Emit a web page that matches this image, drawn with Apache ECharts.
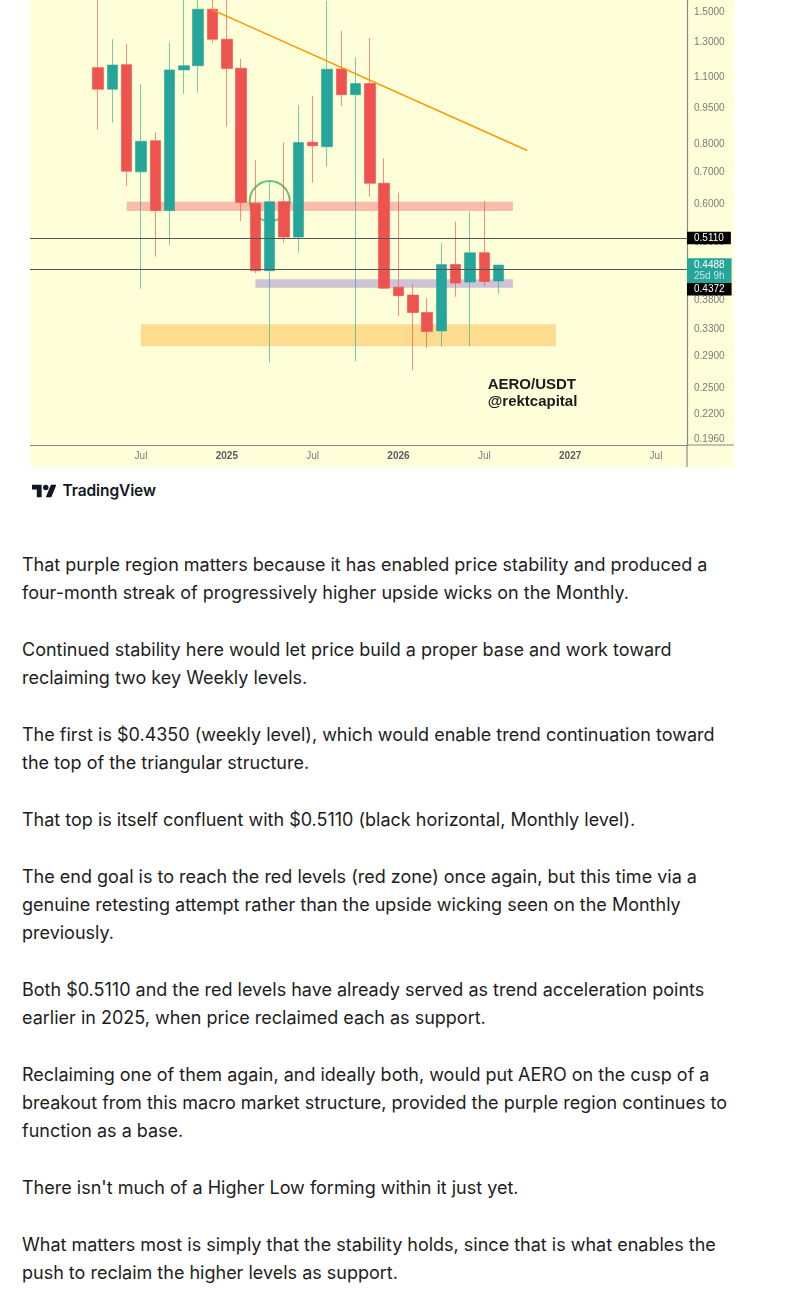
<!DOCTYPE html>
<html>
<head>
<meta charset="utf-8">
<script src="https://cdn.jsdelivr.net/npm/echarts@6/dist/echarts.min.js"></script>
<style>
html,body{margin:0;padding:0;background:#ffffff;width:798px;height:1306px;overflow:hidden;}
#chart{position:absolute;left:30px;top:0;width:704px;height:467px;background:#FEFED9;}
#logo{position:absolute;left:31.7px;top:481.5px;}
#logoText{position:absolute;left:62.5px;top:483.3px;font-family:Inter,"Noto Sans",sans-serif;font-weight:600;font-size:15.5px;line-height:15.5px;color:#131722;letter-spacing:-0.1px;white-space:nowrap;}
#article{position:absolute;left:22px;top:551px;width:720px;font-family:Inter,"Noto Sans",sans-serif;font-size:18px;line-height:28px;color:#1d1d1d;}
#article p{margin:0 0 29px 0;}
</style>
</head>
<body>
<div id="chart"></div>
<svg id="logo" width="24.8" height="19.3" viewBox="0 0 36 28"><path fill="#131722" d="M14 22H7V11H0V4h14v18zM28 22h-8l7.5-18h8L28 22z"/><circle fill="#131722" cx="20" cy="8" r="4"/></svg>
<div id="logoText">TradingView</div>
<div id="article">
<p>That purple region matters because it has enabled price stability and produced a four-month streak of progressively higher upside wicks on the Monthly.</p>
<p>Continued stability here would let price build a proper base and work toward reclaiming two key Weekly levels.</p>
<p>The first is $0.4350 (weekly level), which would enable trend continuation toward the top of the triangular structure.</p>
<p>That top is itself confluent with $0.5110 (black horizontal, Monthly level).</p>
<p>The end goal is to reach the red levels (red zone) once again, but this time via a genuine retesting attempt rather than the upside wicking seen on the Monthly previously.</p>
<p>Both $0.5110 and the red levels have already served as trend acceleration points earlier in 2025, when price reclaimed each as support.</p>
<p>Reclaiming one of them again, and ideally both, would put AERO on the cusp of a breakout from this macro market structure, provided the purple region continues to function as a base.</p>
<p>There isn't much of a Higher Low forming within it just yet.</p>
<p>What matters most is simply that the stability holds, since that is what enables the push to reclaim the higher levels as support.</p>
</div>
<script>
// ---- Data (monthly candles, AERO/USDT) ----
const months = ['2024-04','2024-05','2024-06','2024-07','2024-08','2024-09','2024-10','2024-11','2024-12',
  '2025-01','2025-02','2025-03','2025-04','2025-05','2025-06','2025-07','2025-08','2025-09','2025-10','2025-11','2025-12',
  '2026-01','2026-02','2026-03','2026-04','2026-05','2026-06','2026-07','2026-08'];
const opens  = [1.150,1.038,1.167,0.700,0.812,0.582,1.138,1.161,1.520,1.317,1.147,0.603,0.437,0.607,0.513,0.806,0.789,1.143,1.011,1.066,0.663,0.404,0.389,0.358,0.328,0.450,0.414,0.476,0.416];
const closes = [1.038,1.165,0.702,0.810,0.582,1.138,1.161,1.520,1.317,1.145,0.605,0.437,0.607,0.513,0.805,0.793,1.142,1.011,1.066,0.663,0.402,0.388,0.358,0.327,0.450,0.412,0.476,0.415,0.4488];
const lows   = [0.855,0.885,0.654,0.401,0.467,0.494,1.015,1.021,1.296,0.868,0.554,0.432,0.282,0.4995,0.476,0.665,0.718,0.958,0.284,0.622,0.401,0.352,0.272,0.302,0.304,0.386,0.305,0.406,0.391];
const highs  = [1.72,1.317,1.290,1.063,0.845,1.300,1.70,1.78,1.85,1.65,1.199,0.740,0.668,0.806,0.963,1.006,1.58,1.370,1.206,1.325,0.747,0.634,0.410,0.384,0.498,0.552,0.579,0.609,0.450];

// horizontal levels (black horizontal monthly level, weekly level line)
const levels = [0.5110, 0.4372];
// price-axis labels
const priceLabelValues = [0.5110, 0.4488, 0.4372];
const priceLabelTexts  = ['0.5110', '0.4488', '0.4372'];
const countdownText = '25d 9h';

// zones: red levels, purple region, lower support
const zoneStart = ['2024-06', '2025-03', '2024-07'];
const zoneEnd   = ['2026-09', '2026-09', '2026-12'];
const zoneHigh  = [0.607, 0.4196, 0.3386];
const zoneLow   = [0.581, 0.4030, 0.3048];

// descending trendline (two anchors)
const trendMonths = ['2024-12', '2026-10'];
const trendValues = [1.515, 0.7747];

// highlight circle
const circleMonth = '2025-04';
const circleValue = 0.609;

// axis ticks
const xTickMonths = ['2024-07','2025-01','2025-07','2026-01','2026-07','2027-01','2027-07'];
const xTickLabels = ['Jul','2025','Jul','2026','Jul','2027','Jul'];
const yTickValues = [1.5,1.3,1.1,0.95,0.8,0.7,0.6,0.5,0.44,0.38,0.33,0.29,0.25,0.22,0.196];

// visible range
const X_MIN = -1.759, X_MAX = 44.17;
const Y_MIN = 0.1904, Y_MAX = 1.588;

// ---- helpers ----
function mIdx(s){ const p = s.split('-'); return (parseInt(p[0]) - 2024) * 12 + (parseInt(p[1]) - 1); }
const candleData = months.map((m, i) => [mIdx(m), opens[i], closes[i], lows[i], highs[i]]);
const xTickValues = xTickMonths.map(mIdx);
const zoneColors = ['#F8BCA8', '#CEC2D4', '#FDDB8F'];
const labelStyles = [
  {bg:'#000000', va:'middle', dy:0},
  {bg:'#26A69A', va:'top', dy:-6.75},
  {bg:'#000000', va:'middle', dy:18.6}
];
const FONT = '"Liberation Sans", Arial, sans-serif';

const chart = echarts.init(document.getElementById('chart'), null, {renderer:'canvas'});
chart.setOption({
  animation: false,
  backgroundColor: '#FEFED9',
  grid: {left: 0, right: 47, top: 0, bottom: 22, containLabel: false},
  xAxis: {
    type: 'value', min: X_MIN, max: X_MAX,
    axisLine: {show: true, onZero: false, lineStyle: {color: '#8a8a84', width: 1.2}},
    axisTick: {show: false}, splitLine: {show: false},
    axisLabel: {
      customValues: xTickValues, margin: 6, fontSize: 10, fontFamily: FONT,
      formatter: function (v) {
        const i = xTickValues.indexOf(Math.round(v));
        const s = xTickLabels[i];
        return /^\d{4}$/.test(s) ? '{y|' + s + '}' : '{m|' + s + '}';
      },
      rich: {
        y: {fontWeight: 'bold', color: '#5b5b5b', fontSize: 10, fontFamily: FONT},
        m: {color: '#7e7e7e', fontSize: 10, fontFamily: FONT}
      }
    }
  },
  yAxis: {
    type: 'log', logBase: 10, position: 'right', min: Y_MIN, max: Y_MAX,
    axisLine: {show: true, onZero: false, lineStyle: {color: '#8a8a84', width: 1.2}},
    axisTick: {show: false}, splitLine: {show: false}, minorTick: {show: false},
    axisLabel: {
      customValues: yTickValues, margin: 7, fontSize: 10, fontFamily: FONT, color: '#7b7b7b',
      formatter: function (v) { return Number(v).toFixed(4); }
    }
  },
  graphic: [
    {type: 'line', shape: {x1: 657, y1: 445, x2: 704, y2: 445}, style: {stroke: '#8a8a84', lineWidth: 1.2}, silent: true},
    {type: 'line', shape: {x1: 657, y1: 445, x2: 657, y2: 467}, style: {stroke: '#8a8a84', lineWidth: 1.2}, silent: true},
    {type: 'text', x: 457.7, y: 376.8, silent: true, z: 10,
      style: {text: 'AERO/USDT\n@rektcapital', fontSize: 15, fontWeight: 'bold', fontFamily: FONT, lineHeight: 16.5, fill: '#1b1b1b', verticalAlign: 'top', align: 'left'}}
  ],
  series: [
    {
      type: 'scatter', name: 'circle', z: 1.5, silent: true,
      data: [[mIdx(circleMonth), circleValue]],
      symbol: 'circle', symbolSize: 40,
      itemStyle: {color: 'rgba(0,0,0,0)', borderColor: '#4CAF50', borderWidth: 2}
    },
    {
      type: 'candlestick', name: 'AERO/USDT', z: 2, silent: true,
      data: candleData, encode: {x: 0, y: [1, 2, 3, 4]},
      barWidth: 11,
      itemStyle: {
        color: '#26A69A', color0: '#EF5350',
        borderColor: 'rgba(38,166,154,0.6)', borderColor0: 'rgba(239,83,80,0.65)', borderWidth: 1
      },
      markArea: {
        silent: true, z: 1,
        data: zoneStart.map((s, i) => [
          {xAxis: mIdx(s), yAxis: zoneHigh[i], itemStyle: {color: zoneColors[i], opacity: 1}},
          {xAxis: mIdx(zoneEnd[i]), yAxis: zoneLow[i]}
        ])
      },
      markLine: {
        silent: true, symbol: ['none', 'none'], z: 5,
        label: {show: false},
        lineStyle: {color: '#555555', width: 1.1, type: 'solid'},
        data: levels.map(v => ({yAxis: v}))
      }
    },
    {
      type: 'line', name: 'trend', z: 3, silent: true,
      data: trendMonths.map((m, i) => [mIdx(m), trendValues[i]]),
      symbol: 'none', lineStyle: {color: '#FF9800', width: 1.6}
    },
    {
      type: 'custom', name: 'priceLabels', z: 8, silent: true, clip: false,
      data: priceLabelValues.map(v => [X_MAX, v]),
      renderItem: function (params, api) {
        const i = params.dataIndex;
        const pt = api.coord([api.value(0), api.value(1)]);
        const st = labelStyles[i];
        const isLast = i === 1;
        return {
          type: 'text', x: pt[0], y: pt[1] + st.dy,
          style: isLast ? {
            text: '{a|' + priceLabelTexts[i] + '}\n{b|' + countdownText + '}',
            backgroundColor: st.bg, padding: [1, 7, 1, 7], align: 'left', verticalAlign: st.va,
            rich: {
              a: {fill: '#ffffff', fontSize: 10, fontFamily: FONT, lineHeight: 11.5},
              b: {fill: 'rgba(255,255,255,0.72)', fontSize: 10, fontFamily: FONT, lineHeight: 11.5}
            }
          } : {
            text: priceLabelTexts[i], fill: '#ffffff', fontSize: 10, fontFamily: FONT,
            backgroundColor: st.bg, padding: [1, 7, 1, 7], lineHeight: 10.5,
            align: 'left', verticalAlign: st.va
          }
        };
      }
    }
  ]
});
</script>
</body>
</html>
